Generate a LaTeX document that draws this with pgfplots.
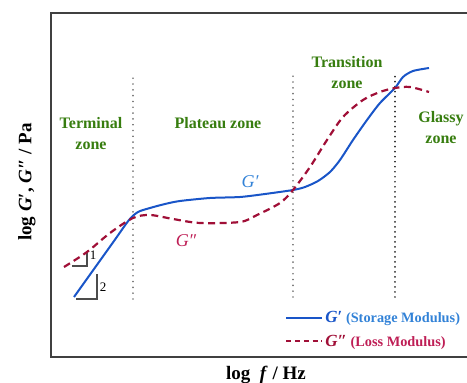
\documentclass[border=0pt]{standalone}
\usepackage{fontspec}
\setmainfont{Liberation Serif}
\usepackage{pgfplots}
\pgfplotsset{compat=1.18}
\definecolor{gblue}{RGB}{25,85,200}
\definecolor{glblue}{RGB}{50,130,215}
\definecolor{gred}{RGB}{160,15,55}
\definecolor{glred}{RGB}{190,30,85}
\definecolor{zgreen}{RGB}{55,125,15}
\begin{document}
\begin{tikzpicture}[x=1pt,y=1pt]
\begin{axis}[at={(51pt,26pt)}, anchor=south west, scale only axis,
  width=420pt, height=344pt, xmin=51, xmax=471, ymin=26, ymax=370,
  axis line style={line width=1.6pt, draw=black!75},
  xtick=\empty, ytick=\empty, clip=false,
  legend style={at={(axis cs:285,74)}, anchor=north west, draw=none, fill=none,
    font=\fontsize{14.3}{17}\selectfont\bfseries, row sep=7pt, inner sep=0pt},
  legend cell align=left,
  legend image code/.code={\draw[#1] (0pt,0pt) -- (36pt,0pt);}]
% legend images
\addlegendimage{gblue, line width=2pt}
\addlegendentry{\textcolor{gblue}{\fontsize{17}{17}\selectfont\textit{G}′} \textcolor{glblue}{(Storage Modulus)}}
\addlegendimage{gred, line width=2.2pt, dash pattern=on 5pt off 3.8pt}
\addlegendentry{\textcolor{gred}{\fontsize{17}{17}\selectfont\textit{G}″} \textcolor{glred}{(Loss Modulus)}}
% dotted zone boundaries
\addplot[forget plot, black!55, line width=1.8pt, line cap=round, dash pattern=on 0.01pt off 5.8pt] coordinates {(133,84) (133,308)};
\addplot[forget plot, black!55, line width=1.8pt, line cap=round, dash pattern=on 0.01pt off 5.8pt] coordinates {(293,86) (293,310)};
\addplot[forget plot, black!85, line width=1.9pt, line cap=round, dash pattern=on 0.01pt off 5pt] coordinates {(395,86) (395,311)};
% slope triangles
\addplot[forget plot, black!70, line width=1.1pt] coordinates {(72,117) (87,117) (87,132)};
\addplot[forget plot, black!70, line width=1.1pt] coordinates {(76,84) (97,84) (97,109)};
% G' storage modulus
\addplot[forget plot, gblue, line width=2pt, smooth, tension=0.45] coordinates {
 (74,86) (94,114) (114,142) (129,163) (138,171) (150,175) (165,179) (180,182) (210,185) (240,186) (265,189) (293,193)
 (305,196) (318,202) (330,211) (340,223) (353,243) (367,263) (380,280) (395,295)
 (403,306) (413,312) (429,315)};
% G'' loss modulus
\addplot[forget plot, gred, line width=2.2pt, dash pattern=on 7pt off 4.5pt, smooth, tension=0.5] coordinates {
 (64,116) (87,131) (110,150) (133,165) (150,168) (173,164) (200,160) (240,161)
 (257,168) (280,180) (293,193) (310,216) (327,243) (343,266) (363,283) (380,291)
 (395,295) (410,296) (429,291)};
% zone labels
\node[font=\fontsize{16}{21}\selectfont\bfseries, text=zgreen, align=center] at (axis cs:91,249.5) {Terminal\\zone};
\node[font=\fontsize{16}{21}\selectfont\bfseries, text=zgreen] at (axis cs:218,260) {Plateau zone};
\node[font=\fontsize{16}{21}\selectfont\bfseries, text=zgreen, align=center] at (axis cs:347,310) {Transition\\zone};
\node[font=\fontsize{16}{21}\selectfont\bfseries, text=zgreen, align=center] at (axis cs:441,255.5) {Glassy\\zone};
% curve labels
\node[font=\fontsize{18}{18}\selectfont\itshape, text=glblue] at (axis cs:250,201) {G′};
\node[font=\fontsize{18}{18}\selectfont\itshape, text=glred] at (axis cs:186,142) {G″};
\node[font=\fontsize{13}{13}\selectfont] at (axis cs:93,128) {1};
\node[font=\fontsize{13}{13}\selectfont] at (axis cs:103,96) {2};
% axis titles
\node[font=\fontsize{19}{19}\selectfont\bfseries, rotate=90] at (axis cs:27,201) {log \textit{G}′, \textit{G}″ / Pa};
\node[font=\fontsize{19}{19}\selectfont\bfseries] at (axis cs:266,8) {log\ \ \textit{f} / Hz};
\end{axis}
\pgfresetboundingbox
\path[use as bounding box] (0,0) rectangle (467pt,383pt);
\end{tikzpicture}
\end{document}
